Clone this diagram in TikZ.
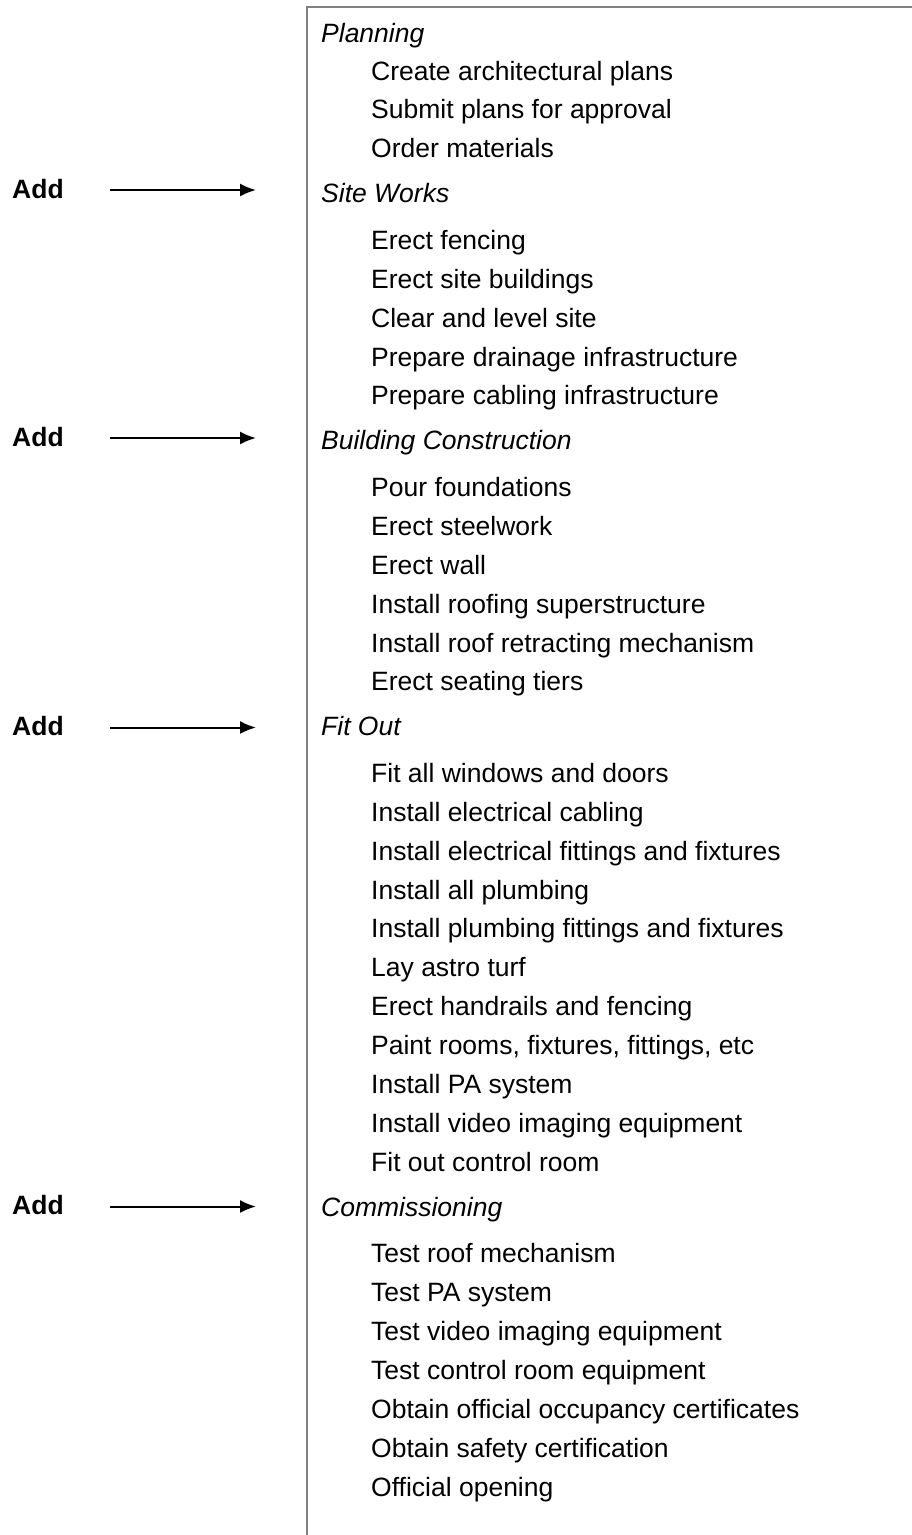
\documentclass[tikz,border=0pt]{standalone}
\usepackage{fontspec}
\setmainfont{Liberation Sans}
\usetikzlibrary{arrows.meta}
\tikzset{
  heading/.style={anchor=base west,inner sep=0pt,font=\fontsize{26.5}{32}\selectfont\itshape},
  task/.style={anchor=base west,inner sep=0pt,font=\fontsize{26.5}{32}\selectfont},
  addlabel/.style={anchor=base west,inner sep=0pt,font=\fontsize{26.5}{32}\selectfont\bfseries},
  addarrow/.style={line width=2pt,-{Latex[length=16pt,width=13pt]}},
  frame/.style={draw=gray,line width=2pt}
}
\begin{document}
\begin{tikzpicture}[x=1pt,y=-1pt]
\useasboundingbox (0,0) rectangle (912,1535);
\clip (0,0) rectangle (912,1535);

\draw  [frame] (307,1545) -- (307,7) -- (922,7);

\node [heading] (planning) at (321,42) {Planning};
\node [task] (archplans) at (371,80) {Create architectural plans};
\node [task] (submit) at (371,118.9) {Submit plans for approval};
\node [task] (order) at (371,157.9) {Order materials};

\node [heading] (siteworks) at (321,202.7) {Site Works};
\node [task] (fencing) at (371,249.2) {Erect fencing};
\node [task] (sitebuild) at (371,288.1) {Erect site buildings};
\node [task] (clear) at (371,327.0) {Clear and level site};
\node [task] (drainage) at (371,366.0) {Prepare drainage infrastructure};
\node [task] (cabling) at (371,404.9) {Prepare cabling infrastructure};

\node [heading] (building) at (321,449.7) {Building Construction};
\node [task] (pour) at (371,496.2) {Pour foundations};
\node [task] (steel) at (371,535.2) {Erect steelwork};
\node [task] (wall) at (371,574.1) {Erect wall};
\node [task] (roofing) at (371,613.0) {Install roofing superstructure};
\node [task] (retract) at (371,652.0) {Install roof retracting mechanism};
\node [task] (seating) at (371,690.9) {Erect seating tiers};

\node [heading] (fitout) at (321,735.7) {Fit Out};
\node [task] (windows) at (371,782.2) {Fit all windows and doors};
\node [task] (eleccab) at (371,821.1) {Install electrical cabling};
\node [task] (elecfit) at (371,860.1) {Install electrical fittings and fixtures};
\node [task] (plumbing) at (371,899.0) {Install all plumbing};
\node [task] (plumbfit) at (371,937.9) {Install plumbing fittings and fixtures};
\node [task] (turf) at (371,976.9) {Lay astro turf};
\node [task] (handrails) at (371,1015.8) {Erect handrails and fencing};
\node [task] (paint) at (371,1054.7) {Paint rooms, fixtures, fittings, etc};
\node [task] (pa) at (371,1093.7) {Install PA system};
\node [task] (video) at (371,1132.6) {Install video imaging equipment};
\node [task] (control) at (371,1171.6) {Fit out control room};

\node [heading] (commission) at (321,1216.4) {Commissioning};
\node [task] (testroof) at (371,1262.9) {Test roof mechanism};
\node [task] (testpa) at (371,1301.8) {Test PA system};
\node [task] (testvideo) at (371,1340.7) {Test video imaging equipment};
\node [task] (testcontrol) at (371,1379.7) {Test control room equipment};
\node [task] (occupancy) at (371,1418.6) {Obtain official occupancy certificates};
\node [task] (safety) at (371,1457.6) {Obtain safety certification};
\node [task] (opening) at (371,1496.5) {Official opening};

\node [addlabel] (addsite) at (12,198.5) {Add};
\node [addlabel] (addbuild) at (12,446.5) {Add};
\node [addlabel] (addfit) at (12,735) {Add};
\node [addlabel] (addcomm) at (12,1214) {Add};

\coordinate (sitefrom) at (110,190);
\coordinate (siteto) at (256,190);
\coordinate (buildfrom) at (110,438);
\coordinate (buildto) at (256,438);
\coordinate (fitfrom) at (110,727.5);
\coordinate (fitto) at (256,727.5);
\coordinate (commfrom) at (110,1206.5);
\coordinate (commto) at (256,1206.5);

\draw [addarrow] (sitefrom) -- (siteto);
\draw [addarrow] (buildfrom) -- (buildto);
\draw [addarrow] (fitfrom) -- (fitto);
\draw [addarrow] (commfrom) -- (commto);

\end{tikzpicture}
\end{document}
